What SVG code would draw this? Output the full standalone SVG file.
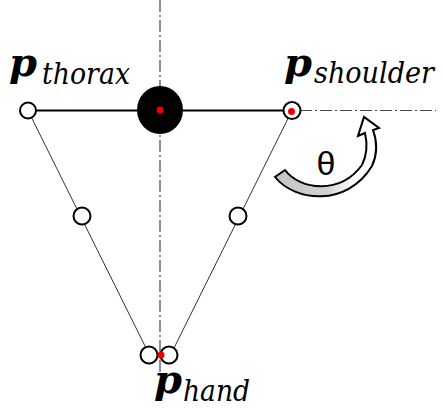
<svg xmlns="http://www.w3.org/2000/svg" width="442" height="409" viewBox="0 0 442 409">
<defs>
<style>
.axis{stroke:#444;stroke-width:1.2;stroke-dasharray:12 3 2 3;fill:none}
.bar{stroke:#000;stroke-width:2;fill:none}
.arm{stroke:#333;stroke-width:1;fill:none}
.joint{fill:#fff;stroke:#000;stroke-width:2}
.dot{fill:#e00}
.pb{font-family:"DejaVu Serif",serif;font-weight:bold;font-style:italic;font-size:40px;fill:#000}
.sub{font-family:"DejaVu Serif",serif;font-style:italic;font-size:29px;fill:#000}
.theta{font-family:"Liberation Sans",Arial,sans-serif;font-size:34px;fill:#000}
</style>
<linearGradient id="g" x1="275" y1="0" x2="380" y2="0" gradientUnits="userSpaceOnUse">
<stop offset="0" stop-color="#c4c4c4"/>
<stop offset="0.5" stop-color="#d2d2d2"/>
<stop offset="0.75" stop-color="#ffffff"/>
</linearGradient>
</defs>
<g id="connectors">
<line class="axis" x1="160" y1="0" x2="160" y2="372"/>
<line class="axis" x1="300" y1="110.5" x2="436" y2="110.5"/>
<line class="bar" x1="28" y1="110.5" x2="292" y2="110.5"/>
<line class="arm" x1="28" y1="110.5" x2="146" y2="348"/>
<line class="arm" x1="292" y1="110.5" x2="174" y2="348"/>
</g>
<g id="thorax-left"><circle class="joint" cx="28" cy="110.5" r="8"/></g>
<g id="thorax"><ellipse cx="160" cy="110" rx="23" ry="24" fill="#000"/><circle class="dot" cx="160" cy="110" r="3.5"/></g>
<g id="shoulder"><circle class="joint" cx="292" cy="110.5" r="8.5"/><circle class="dot" cx="291.5" cy="111.5" r="3.5"/></g>
<g id="elbow-left"><circle class="joint" cx="82" cy="216" r="8.5"/></g>
<g id="elbow-right"><circle class="joint" cx="238" cy="216" r="8.5"/></g>
<g id="hand"><circle class="joint" cx="149" cy="355" r="8.5"/><circle class="joint" cx="169" cy="355" r="8.5"/><circle class="dot" cx="161" cy="355" r="3.5"/></g>
<g id="rotation">
<path d="M275,177 C295,202 347,207 372,166 C378,153 377,141 373,130 L379,128 L364,117 L358,136 L365,133 C368,146 366,157 362,165 C340,195 300,190 285,170 Z" fill="url(#g)" stroke="#000" stroke-width="2" stroke-linejoin="miter"/>
<text class="theta" x="326" y="175" text-anchor="middle">θ</text>
</g>
<g id="labels">
<text x="9" y="76"><tspan class="pb">p</tspan></text>
<text class="sub" x="42" y="84" textLength="88" lengthAdjust="spacingAndGlyphs">thorax</text>
<text x="284" y="76"><tspan class="pb">p</tspan></text>
<text class="sub" x="314" y="83" textLength="120" lengthAdjust="spacingAndGlyphs">shoulder</text>
<text x="154" y="393"><tspan class="pb">p</tspan></text>
<text class="sub" x="183" y="401" textLength="67" lengthAdjust="spacingAndGlyphs">hand</text>
</g>
</svg>
